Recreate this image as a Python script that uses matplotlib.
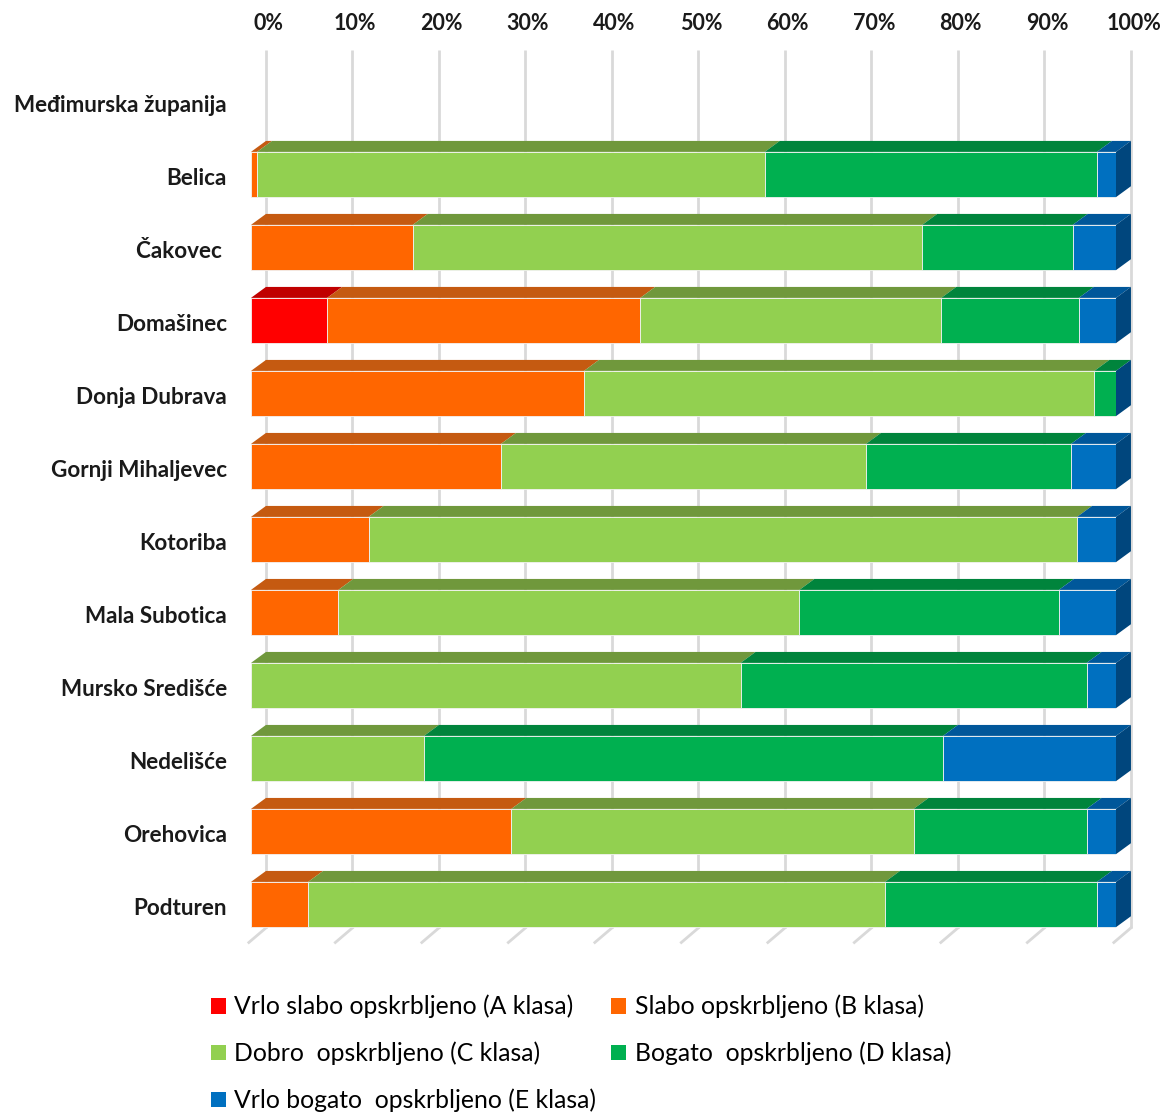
import matplotlib
matplotlib.use('Agg')
import matplotlib.pyplot as plt
from matplotlib.patches import Polygon, Patch

plt.rcParams['font.family'] = ['Lato', 'DejaVu Sans']

categories = ['Međimurska županija', 'Belica', 'Čakovec ', 'Domašinec', 'Donja Dubrava',
              'Gornji Mihaljevec', 'Kotoriba', 'Mala Subotica', 'Mursko Središće',
              'Nedelišće', 'Orehovica', 'Podturen']

# percentage share per class (A..E)
klasa_a = [0, 0.0, 0.0, 8.8, 0.0, 0.0, 0.0, 0.0, 0.0, 0.0, 0.0, 0.0]
klasa_b = [0, 0.7, 18.7, 36.2, 38.5, 28.9, 13.6, 10.1, 0.0, 0.0, 30.1, 6.6]
klasa_c = [0, 58.7, 58.9, 34.8, 59.0, 42.2, 81.9, 53.3, 56.6, 20.0, 46.5, 66.7]
klasa_d = [0, 38.4, 17.4, 15.9, 2.5, 23.7, 0.0, 30.0, 40.0, 60.0, 20.0, 24.5]
klasa_e = [0, 2.2, 5.0, 4.3, 0.0, 5.2, 4.5, 6.6, 3.4, 20.0, 3.4, 2.2]

series_labels = ['Vrlo slabo opskrbljeno (A klasa)', 'Slabo opskrbljeno (B klasa)',
                 'Dobro  opskrbljeno (C klasa)', 'Bogato  opskrbljeno (D klasa)',
                 'Vrlo bogato  opskrbljeno (E klasa)']
x_ticks = [0, 10, 20, 30, 40, 50, 60, 70, 80, 90, 100]

FRONT = ['#FF0000', '#FF6600', '#92D050', '#00B050', '#0070C0']
TOP   = ['#C00000', '#C55A11', '#70983C', '#00843C', '#00579A']
SIDE  = '#00467D'
GRID  = '#D9D9D9'

DX, DY = 1.73, 0.15     # 3D depth in data units
BAR_H = 0.62

series = [klasa_a, klasa_b, klasa_c, klasa_d, klasa_e]

fig = plt.figure(figsize=(11.68, 11.15), dpi=100)
ax = fig.add_axes([251 / 1168, 1 - 943 / 1115, 865 / 1168, 898 / 1115])
ax.set_xlim(0, 100)
ax.set_ylim(11.527, -0.774)
ax.axis('off')

# back-wall gridlines + floor
for t in x_ticks:
    ax.plot([t + DX, t + DX], [-0.7, 11.32], color=GRID, lw=2, zorder=0,
            solid_capstyle='butt', clip_on=False)
    ax.plot([t + DX, t - 0.25], [11.32, 11.52], color=GRID, lw=2, zorder=0,
            clip_on=False)
    ax.text(t + DX + 0.3, -1.07, f'{t}%', ha='center', va='center', fontsize=15.5,
            fontweight='bold', color='#1a1a1a', clip_on=False)

for i, name in enumerate(categories):
    ax.text(-2.77, i + 0.05, name, ha='right', va='center', fontsize=16.2,
            fontweight='bold', color='#1a1a1a', clip_on=False)
    vals = [s[i] for s in series]
    if sum(vals) == 0:
        continue
    top = i - BAR_H / 2
    bot = i + BAR_H / 2
    left = 0.0
    for k, v in enumerate(vals):
        if v > 0:
            ax.barh(i, v, left=left, height=BAR_H, color=FRONT[k],
                    edgecolor='#f2f2f2', linewidth=0.6, zorder=2)
            ax.add_patch(Polygon([(left, top), (left + DX, top - DY),
                                  (left + v + DX, top - DY), (left + v, top)],
                                 closed=True, facecolor=TOP[k], edgecolor='none',
                                 zorder=1.5, clip_on=False))
        left += v
    ax.add_patch(Polygon([(left, top), (left + DX, top - DY),
                          (left + DX, bot - DY), (left, bot)],
                         closed=True, facecolor=SIDE, edgecolor='none',
                         zorder=1.5, clip_on=False))

handles = [Patch(facecolor=c, edgecolor='none') for c in FRONT]
order = [0, 2, 4, 1, 3]
fig.legend([handles[j] for j in order], [series_labels[j] for j in order],
           ncol=2, loc='upper left', bbox_to_anchor=(201 / 1168, 1 - 985 / 1115),
           frameon=False, fontsize=17.8, handlelength=0.6, handleheight=0.6,
           handletextpad=0.35, columnspacing=0.6, labelspacing=0.94,
           borderaxespad=0)

fig.savefig('out.png', dpi=100, facecolor='white')
